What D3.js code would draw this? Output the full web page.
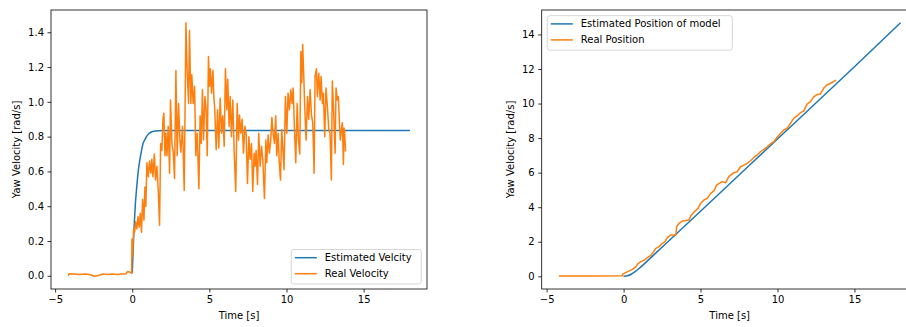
<!DOCTYPE html>
<html><head><meta charset="utf-8">
<script src="https://cdn.jsdelivr.net/npm/d3@7"></script>
<style>body{margin:0;background:#fff}svg{display:block;font-family:"DejaVu Sans",sans-serif}</style>
</head><body><svg id="c" width="906" height="327"></svg>
<script>
// ---------- DATA ----------
const estVelT = [0, 0.05, 0.1, 0.15, 0.2, 0.25, 0.3, 0.4, 0.5, 0.6, 0.7, 0.8, 1.0, 1.2, 1.5, 2.0, 2.5, 18];
const estVelV = [0.015, 0.13, 0.24, 0.33, 0.41, 0.47, 0.52, 0.61, 0.67, 0.72, 0.76, 0.78, 0.81, 0.825, 0.832, 0.835, 0.835, 0.835];

const realVelT = [-4.16,-4.1,-3.8,-3.4,-3.0,-2.7,-2.45,-2.2,-1.9,-1.6,-1.3,-1.0,-0.7,-0.4,-0.3,-0.15,-0.04,
 -0.02,0.02,0.09,0.15,0.22,0.30,0.37,0.45,0.52,0.60,0.67,0.76,0.82,0.88,0.95,1.04,1.12,1.21,1.27,1.34,1.43,1.51,1.60,1.69,1.77,1.84,1.92,1.99,2.05,2.12,2.18,2.25,2.33,2.42,2.48,2.57,2.66,2.74,2.83,2.91,3.00,3.09,3.15,3.26,3.37,3.48,3.56,3.65,3.71,3.80,3.86,3.95,4.04,4.12,4.21,4.32,4.40,4.47,4.55,4.62,4.71,4.79,4.86,4.94,5.01,5.07,5.14,5.23,5.29,5.35,5.44,5.53,5.61,5.70,5.79,5.87,5.96,6.04,6.13,6.19,6.28,6.35,6.43,6.52,6.61,6.71,6.80,6.89,6.95,7.04,7.12,7.21,7.30,7.38,7.47,7.56,7.64,7.73,7.81,7.90,7.96,8.03,8.12,8.20,8.29,8.38,8.46,8.57,8.66,8.72,8.81,8.89,8.98,9.05,9.13,9.22,9.30,9.37,9.46,9.52,9.61,9.69,9.78,9.84,9.93,10.02,10.10,10.19,10.28,10.36,10.43,10.51,10.60,10.69,10.77,10.86,10.93,10.99,11.05,11.12,11.18,11.27,11.36,11.44,11.53,11.62,11.70,11.79,11.85,11.94,12.00,12.09,12.18,12.24,12.33,12.39,12.48,12.56,12.65,12.74,12.82,12.91,12.97,13.06,13.15,13.21,13.30,13.36,13.43,13.49,13.56,13.62,13.69,13.73,13.77,13.83];
const realVelV = [0.0,0.012,0.01,0.008,0.01,0.006,-0.003,0.002,0.01,0.008,0.01,0.008,0.01,0.012,0.025,0.02,0.015,
 0.21,0.11,0.27,0.25,0.31,0.27,0.34,0.28,0.36,0.25,0.44,0.32,0.51,0.40,0.65,0.57,0.66,0.59,0.67,0.57,0.70,0.55,0.63,0.48,0.29,0.76,0.72,0.90,0.935,0.69,0.82,0.69,0.86,0.59,1.01,0.76,0.71,0.56,1.18,0.69,0.99,0.78,0.71,0.86,0.49,1.455,1.18,0.99,1.41,0.99,1.155,0.99,1.09,0.69,0.82,0.50,0.92,0.76,1.07,0.78,1.03,0.955,0.69,1.26,1.09,1.19,1.05,1.18,1.03,0.955,0.725,0.955,0.735,1.02,0.82,0.92,0.745,1.19,0.955,1.13,0.86,1.03,0.80,1.01,0.705,0.485,0.99,0.78,0.925,0.82,0.90,0.705,0.86,0.82,0.53,0.80,0.67,0.76,0.485,0.705,0.63,0.72,0.525,0.82,0.63,0.745,0.67,0.445,0.78,0.65,0.81,0.705,0.78,0.91,0.82,0.76,0.92,0.69,0.82,0.67,0.55,0.84,0.705,0.61,1.03,0.82,1.05,0.955,1.07,0.99,1.08,0.86,0.65,0.99,0.78,0.70,1.29,1.11,1.33,1.145,0.975,0.78,1.03,0.90,1.07,0.92,0.88,0.59,1.145,1.19,1.03,1.165,1.01,1.145,0.99,1.05,0.80,1.08,0.975,0.84,0.82,0.55,1.12,0.935,0.705,1.08,1.01,1.03,0.88,0.78,0.84,0.88,0.64,0.85,0.82,0.715];

const estPosT = [0, 0.25, 0.5, 0.75, 1.0, 1.5, 2.0, 3.0, 5.0, 10.0, 15.0, 18.0];
const estPosV = [0, 0.03, 0.12, 0.27, 0.45, 0.85, 1.27, 2.1, 3.77, 7.95, 12.13, 14.68];

const realPosT = [-4.21,-2.0,-0.06,-0.06,0.04,0.26,0.58,0.80,0.91,1.12,1.34,1.55,1.73,1.88,2.09,2.31,2.52,2.68,2.85,3.07,3.39,3.45,3.61,3.82,4.25,4.36,4.58,4.84,4.97,5.22,5.44,5.66,5.87,6.04,6.41,6.63,6.84,7.17,7.38,7.60,7.82,8.03,8.25,8.46,8.68,8.89,9.11,9.33,9.54,9.76,9.97,10.19,10.41,10.62,10.84,11.05,11.27,11.49,11.70,11.92,12.13,12.35,12.56,12.78,13.0,13.21,13.43,13.80];
const realPosV = [0.02,0.02,0.04,0.13,0.17,0.27,0.40,0.56,0.71,0.85,0.94,1.08,1.18,1.33,1.62,1.72,1.91,2.0,2.26,2.39,2.39,2.87,3.07,3.2,3.26,3.49,3.72,3.93,4.18,4.42,4.51,4.8,4.94,5.28,5.48,5.42,5.77,6.0,6.05,6.34,6.44,6.54,6.69,6.88,7.02,7.21,7.35,7.5,7.66,7.79,8.04,8.27,8.47,8.56,8.85,9.14,9.28,9.47,9.56,9.97,10.1,10.39,10.51,10.55,10.88,11.07,11.16,11.36];

const leftTicksY = [0, 0.2, 0.4, 0.6, 0.8, 1.0, 1.2, 1.4];
const rightTicksY = [0, 2, 4, 6, 8, 10, 12, 14];
const ticksX = [-5, 0, 5, 10, 15];
const leftLegend = ["Estimated Velcity", "Real Velocity"];
const rightLegend = ["Estimated Position of model", "Real Position"];
const xLabel = "Time [s]";
const yLabel = "Yaw Velocity [rad/s]";
const colors = ["#1f77b4", "#ff7f0e"];

// ---------- DRAW ----------
const svg = d3.select("#c");
function zip(t, v){ return t.map((d,i)=>[d, v[i]]); }

function panel(o){
  const {x0, x1, y0, y1, series, yTicks, yFmt, legend, legendPos} = o;
  const allX = series.flatMap(s=>s.t), allY = series.flatMap(s=>s.v);
  const xe = d3.extent(allX), ye = d3.extent(allY);
  const px = (xe[1]-xe[0])*0.05, py = (ye[1]-ye[0])*0.05;
  const x = d3.scaleLinear().domain([xe[0]-px, xe[1]+px]).range([x0, x1]);
  const y = d3.scaleLinear().domain([ye[0]-py, ye[1]+py]).range([y1, y0]);
  const g = svg.append("g");
  const id = "clip" + Math.round(x0);
  svg.append("clipPath").attr("id", id).append("rect").attr("x", x0).attr("y", y0).attr("width", x1-x0).attr("height", y1-y0);
  const line = d3.line().x(d=>x(d[0])).y(d=>y(d[1]));
  series.forEach((s,i)=>{
    g.append("path").attr("clip-path", `url(#${id})`).datum(zip(s.t, s.v))
      .attr("d", line.curve(s.curve || d3.curveLinear)).attr("fill","none")
      .attr("stroke", colors[i]).attr("stroke-width", 1.5).attr("stroke-linejoin","round");
  });
  // axes
  const xa = g.append("g").attr("transform", `translate(0,${y1})`)
    .call(d3.axisBottom(x).tickValues(ticksX).tickSize(3.5).tickPadding(3.5).tickFormat(d3.format("")));
  const ya = g.append("g").attr("transform", `translate(${x0},0)`)
    .call(d3.axisLeft(y).tickValues(yTicks).tickSize(3.5).tickPadding(3.5).tickFormat(d3.format(yFmt)));
  [xa, ya].forEach(a=>{
    a.select(".domain").remove();
    a.selectAll("line").attr("stroke","#000").attr("stroke-width",0.8);
    a.selectAll("text").attr("font-size", 10).attr("fill","#000").attr("font-family","DejaVu Sans");
  });
  g.append("rect").attr("x", x0).attr("y", y0).attr("width", x1-x0).attr("height", y1-y0)
    .attr("fill","none").attr("stroke","#000").attr("stroke-width",0.8);
  g.append("text").attr("x", (x0+x1)/2).attr("y", y1+30).attr("text-anchor","middle")
    .attr("font-size",10).attr("fill","#000").text(xLabel);
  g.append("text").attr("transform", `translate(${o.ylabX},${(y0+y1)/2}) rotate(-90)`)
    .attr("text-anchor","middle").attr("dominant-baseline","central").attr("font-size",10).attr("fill","#000").text(yLabel);
  // legend
  const L = g.append("g").attr("transform", `translate(${legendPos[0]},${legendPos[1]})`);
  L.append("rect").attr("width", legendPos[2]).attr("height", 34.5).attr("rx", 2.5)
    .attr("fill","#fff").attr("fill-opacity",0.8).attr("stroke","#ccc").attr("stroke-width",0.8);
  legend.forEach((txt,i)=>{
    const cy = 8.2 + i*16;
    L.append("line").attr("x1", 3.5).attr("x2", 25.5).attr("y1", cy).attr("y2", cy)
      .attr("stroke", colors[i]).attr("stroke-width", 1.5);
    L.append("text").attr("x", 33.5).attr("y", cy).attr("dominant-baseline","central")
      .attr("font-size", 10).attr("fill","#000").text(txt);
  });
}

panel({x0:51, x1:427, y0:10, y1:289, yTicks:leftTicksY, yFmt:".1f", ylabX:16,
  series:[{t:estVelT, v:estVelV, curve:d3.curveMonotoneX},{t:realVelT, v:realVelV}],
  legend:leftLegend, legendPos:[291.3, 249.5, 130]});
panel({x0:541.7, x1:917.7, y0:10, y1:289, yTicks:rightTicksY, yFmt:"d", ylabX:510,
  series:[{t:estPosT, v:estPosV, curve:d3.curveMonotoneX},{t:realPosT, v:realPosV}],
  legend:rightLegend, legendPos:[547.3, 15.7, 185]});
</script></body></html>
